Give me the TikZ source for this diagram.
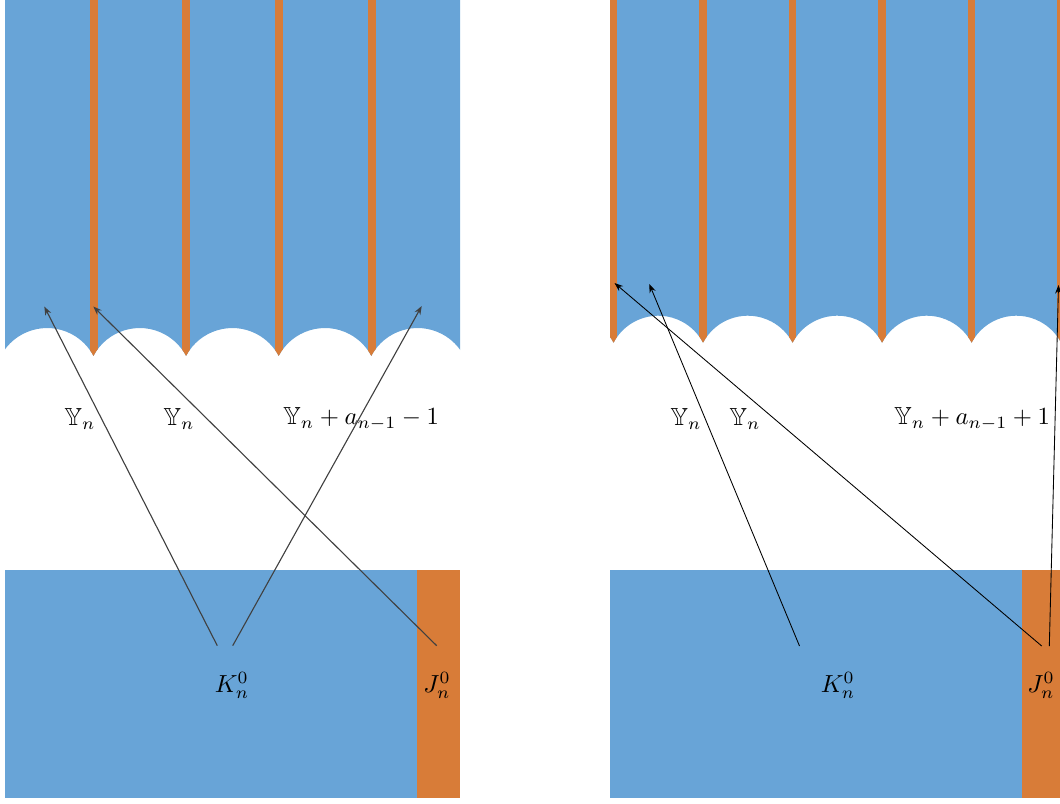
\documentclass[tikz,border=0pt]{standalone}
\usepackage{amssymb}
\usetikzlibrary{arrows.meta}
\definecolor{pblue}{RGB}{104,164,215}
\definecolor{porange}{RGB}{216,124,56}
\begin{document}
\begin{tikzpicture}[x=0.405pt,y=-0.405pt,
  lbl/.style={inner sep=0pt},
  arrL/.style={draw=black!75, line width=0.45pt, -{Stealth[length=3.5pt,width=2.6pt]}},
  arrR/.style={draw=black, line width=0.35pt, -{Stealth[length=3.5pt,width=2.6pt]}}]
\useasboundingbox (0,0) rectangle (1060,803);

% ---------- left panel, top ----------
\begin{scope}
  \clip (5,0) rectangle (460,420);
  \clip (0.83,0) -- (0.83,355.9)
    arc[start angle=207.9,end angle=332.1,radius=52.4]
    arc[start angle=207.9,end angle=332.1,radius=52.4]
    arc[start angle=207.9,end angle=332.1,radius=52.4]
    arc[start angle=207.9,end angle=332.1,radius=52.4]
    arc[start angle=207.9,end angle=332.1,radius=52.4]
    -- (464.2,0) -- cycle;
  \fill[pblue] (0,0) rectangle (470,420);
  \foreach \x in {93.5,186.17,278.83,371.5}
    \fill[porange] (\x-4,0) rectangle (\x+4,420);
\end{scope}

% ---------- right panel, top ----------
\begin{scope}
  \clip (610,0) rectangle (1060,420);
  \clip (524,0) -- (524,342.7)
    arc[start angle=207.8,end angle=332.2,radius=50.6]
    arc[start angle=207.8,end angle=332.2,radius=50.6]
    arc[start angle=207.8,end angle=332.2,radius=50.6]
    arc[start angle=207.8,end angle=332.2,radius=50.6]
    arc[start angle=207.8,end angle=332.2,radius=50.6]
    arc[start angle=207.8,end angle=332.2,radius=50.6]
    -- (1061,0) -- cycle;
  \fill[pblue] (600,0) rectangle (1070,420);
  \foreach \x in {613.5,703,792.5,882,971.5,1061}
    \fill[porange] (\x-3.7,0) rectangle (\x+3.7,420);
\end{scope}

% ---------- bottom blocks ----------
\fill[pblue] (5,569.5) rectangle (417.3,798);
\fill[porange] (417.3,569.5) rectangle (460,798);
\fill[pblue] (610,569.5) rectangle (1022,798);
\fill[porange] (1022,569.5) rectangle (1060,798);

% ---------- labels ----------
\node[lbl] (lY1) at (80,419) {$\mathbb{Y}_n$};
\node[lbl] (lY2) at (179,419) {$\mathbb{Y}_n$};
\node[lbl] (lY3) at (361,419) {$\mathbb{Y}_n+a_{n-1}-1$};
\node[lbl] (lK) at (232,685) {$K_n^0$};
\node[lbl] (lJ) at (437,685) {$J_n^0$};
\node[lbl] (rY1) at (686,419) {$\mathbb{Y}_n$};
\node[lbl] (rY2) at (745,419) {$\mathbb{Y}_n$};
\node[lbl] (rY3) at (972,419) {$\mathbb{Y}_n+a_{n-1}+1$};
\node[lbl] (rK) at (838,685) {$K_n^0$};
\node[lbl] (rJ) at (1041,685) {$J_n^0$};

% ---------- arrow end points ----------
\coordinate (l1s) at (217.3,645.7);
\coordinate (l2s) at (232.7,645.7);
\coordinate (l3s) at (436.7,645.7);
\coordinate (l1e) at (44.3,306.5);
\coordinate (l2e) at (421.7,306);
\coordinate (l3e) at (93.3,306.5);
\coordinate (r1s) at (799.5,646);
\coordinate (r2s) at (1041.7,646);
\coordinate (r3s) at (1049.3,646);
\coordinate (r1e) at (649.3,284);
\coordinate (r2e) at (614.5,283);
\coordinate (r3e) at (1058.5,285);

% ---------- arrows ----------
\draw[arrL] (l1s) -- (l1e);
\draw[arrL] (l2s) -- (l2e);
\draw[arrL] (l3s) -- (l3e);
\draw[arrR] (r1s) -- (r1e);
\draw[arrR] (r2s) -- (r2e);
\draw[arrR] (r3s) -- (r3e);
\end{tikzpicture}
\end{document}
